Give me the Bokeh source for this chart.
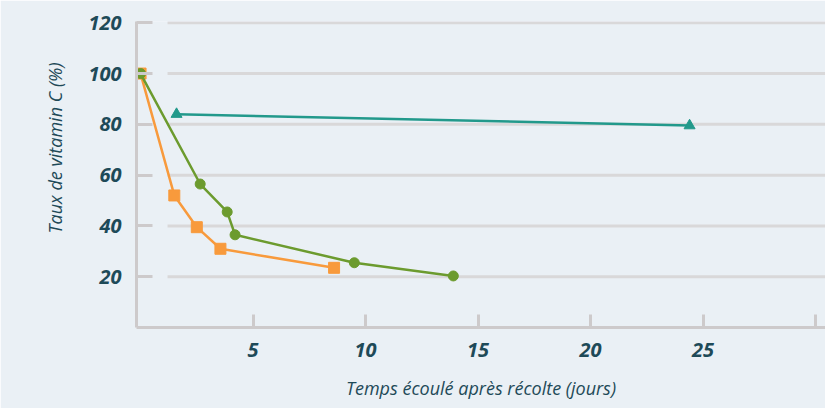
from bokeh.plotting import figure
from bokeh.models import FixedTicker, Range1d, Title
from bokeh.embed import file_html
from bokeh.resources import INLINE

# Data
orange_x = [0, 1.5, 2.5, 3.55, 8.6]
orange_y = [100, 52, 39.5, 31, 23.5]
green_x = [0, 2.65, 3.85, 4.2, 9.5, 13.9]
green_y = [100, 56.5, 45.5, 36.5, 25.5, 20.3]
teal_x = [1.6, 24.4]
teal_y = [84, 79.5]

x_ticks = [5, 10, 15, 20, 25, 30]
x_labels = {30: ""}
y_ticks = [20, 40, 60, 80, 100, 120]

BG = "#eaf0f5"
AXIS_C = "#cdcacb"
GRID_C = "#d9d8d9"
TEXT_C = "#1e4a58"
ORANGE = "#f89a3c"
GREEN = "#6c9b2e"
TEAL = "#22998b"

p = figure(width=825, height=408, output_backend="svg", toolbar_location=None,
           x_range=Range1d(-0.18, 30.44), y_range=Range1d(0, 120.5),
           min_border_left=136, min_border_right=0, min_border_top=21,
           min_border_bottom=81)
p.background_fill_color = BG
p.border_fill_color = BG
p.outline_line_color = None

# grid lines (start a little to the right of the y axis, as in the reference)
p.xgrid.visible = False
p.ygrid.visible = False
for yt in y_ticks:
    p.segment(x0=1.2, x1=31, y0=yt, y1=yt, line_color=GRID_C, line_width=3)

# series
p.line(orange_x, orange_y, line_color=ORANGE, line_width=2.5)
p.scatter(orange_x, orange_y, marker="square", size=11, color=ORANGE)

p.line(green_x, green_y, line_color=GREEN, line_width=2.5)
p.scatter(green_x, green_y, marker="circle", size=10, color=GREEN)

p.line(teal_x, teal_y, line_color=TEAL, line_width=2.5)
p.scatter(teal_x, teal_y, marker="triangle", size=11, color=TEAL)

for ax in (p.xaxis[0], p.yaxis[0]):
    ax.axis_line_color = AXIS_C
    ax.axis_line_width = 3
    ax.major_tick_line_color = AXIS_C
    ax.major_tick_line_width = 3
    ax.major_tick_out = 0
    ax.minor_tick_line_color = None
    ax.major_label_text_color = TEXT_C
    ax.major_label_text_font = "Open Sans"
    ax.major_label_text_font_style = "bold italic"
    ax.major_label_text_font_size = "20px"
    ax.axis_label_text_color = TEXT_C
    ax.axis_label_text_font = "Open Sans"
    ax.axis_label_text_font_style = "italic"
    ax.axis_label_text_font_size = "18px"
    ax.major_label_standoff = 15

p.xaxis.ticker = FixedTicker(ticks=x_ticks)
p.xaxis.major_label_overrides = x_labels
p.xaxis.major_tick_in = 13
p.xaxis.axis_label = "Temps écoulé après récolte (jours)"
p.xaxis.axis_label_standoff = 16

p.yaxis.ticker = FixedTicker(ticks=y_ticks)
p.yaxis.major_tick_in = 16

ytitle = Title(text="Taux de vitamin C (%)", align="right", offset=41,
               text_color=TEXT_C, text_font="Open Sans", text_font_style="italic",
               text_font_size="18px", standoff=38)
p.add_layout(ytitle, "left")

html = file_html(p, INLINE)
html = html.replace("<body>", '<body style="background:%s">' % BG, 1)
open("out.html", "w").write(html)
